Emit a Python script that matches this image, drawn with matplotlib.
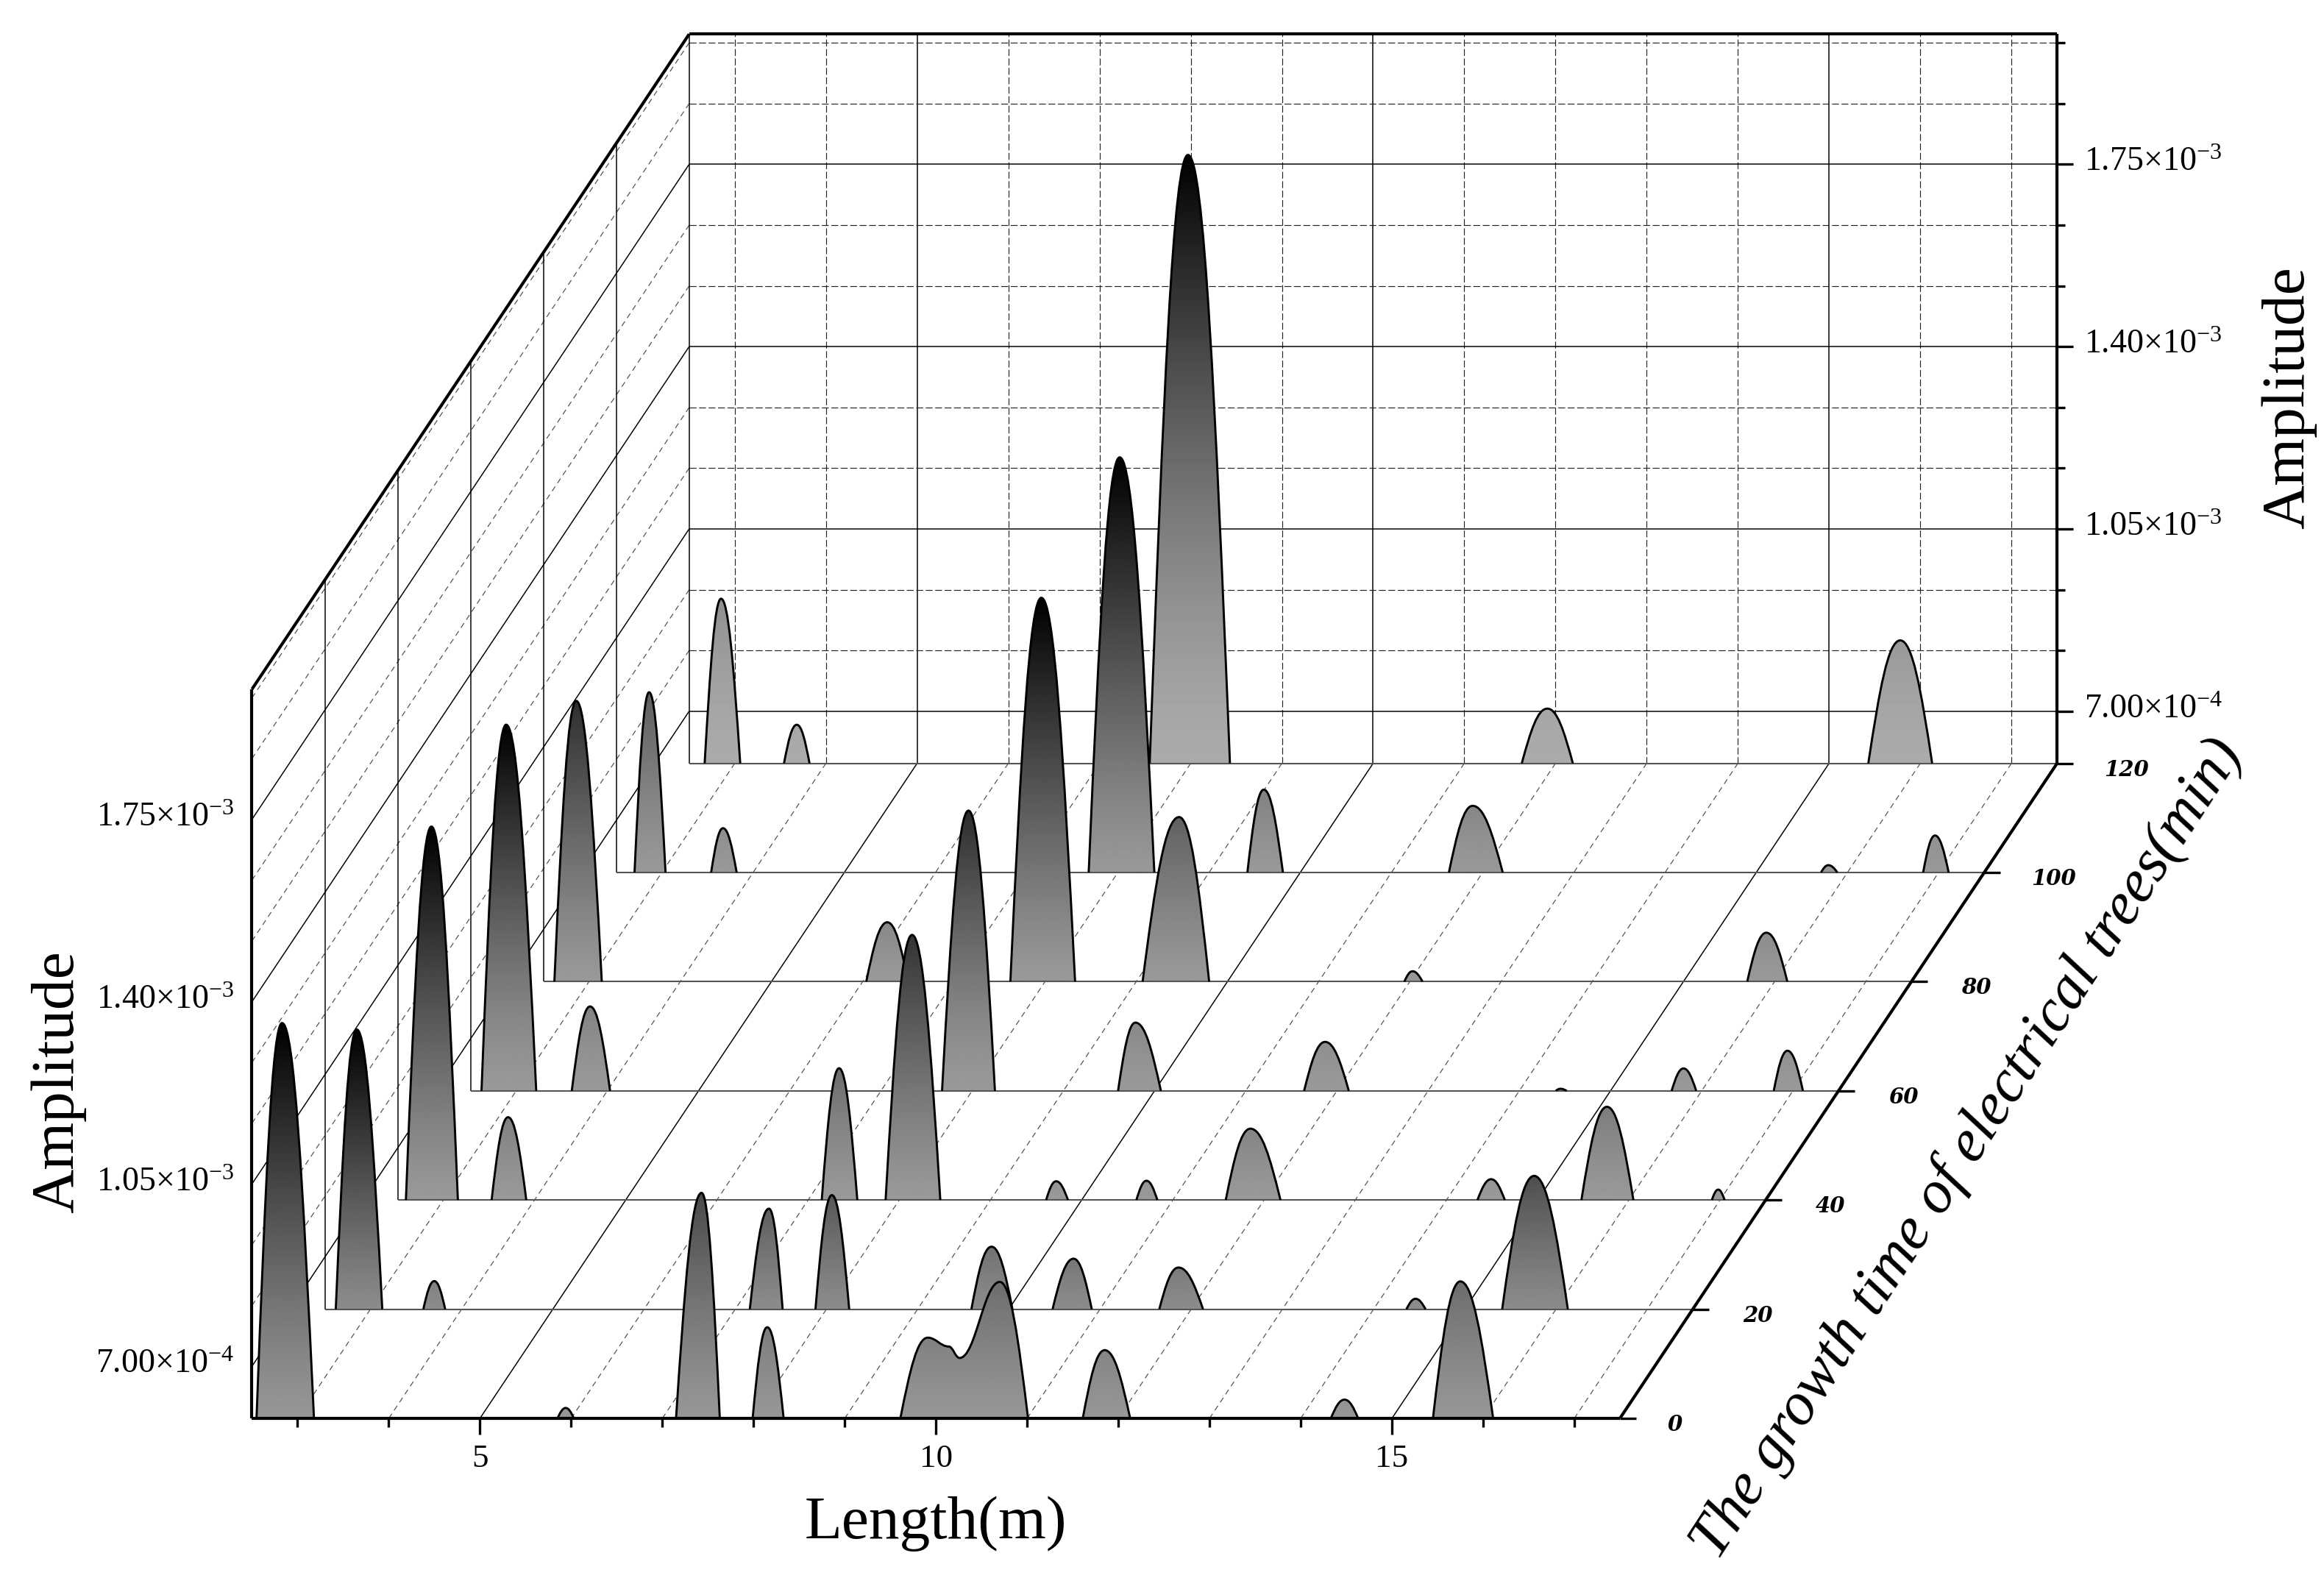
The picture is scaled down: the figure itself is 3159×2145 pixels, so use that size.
import numpy as np
import matplotlib
matplotlib.use("Agg")
import matplotlib.pyplot as plt
from matplotlib.path import Path
from matplotlib.patches import PathPatch

plt.rcParams["font.family"] = ["Liberation Serif", "DejaVu Serif"]
plt.rcParams["mathtext.fontset"] = "custom"
plt.rcParams["mathtext.rm"] = "Liberation Serif"
plt.rcParams["mathtext.it"] = "Liberation Serif:italic"

# growth times, one ribbon each
times = [0, 20, 40, 60, 80, 100, 120]

# knots of each ribbon: length (m) and amplitude (x 1e-3), 0.6 is the floor
length_t0 = [2.55, 2.83, 3.18, 5.85, 5.94, 6.03, 7.15, 7.43, 7.63, 7.99, 8.15, 8.33,
             9.61, 9.91, 10.14, 10.26, 10.70, 11.01, 11.61, 11.85, 12.13, 14.33, 14.48, 14.63, 15.45, 15.75, 16.11]
amp_t0 = [0.6, 1.359, 0.6, 0.6, 0.620, 0.6, 0.6, 1.033, 0.6, 0.6, 0.775, 0.6,
          0.6, 0.755, 0.738, 0.716, 0.862, 0.6, 0.6, 0.731, 0.6, 0.6, 0.636, 0.6, 0.6, 0.863, 0.6]

length_t20 = [2.62, 2.85, 3.13, 3.58, 3.70, 3.82, 7.16, 7.37, 7.52, 7.88, 8.06, 8.25, 9.59, 9.81, 10.04,
              10.48, 10.71, 10.91, 11.65, 11.86, 12.13, 14.36, 14.46, 14.57, 15.41, 15.76, 16.13]
amp_t20 = [0.6, 1.137, 0.6, 0.6, 0.654, 0.6, 0.6, 0.793, 0.6, 0.6, 0.819, 0.6, 0.6, 0.720, 0.6,
           0.6, 0.697, 0.6, 0.6, 0.680, 0.6, 0.6, 0.620, 0.6, 0.6, 0.856, 0.6]

length_t40 = [2.59, 2.87, 3.16, 3.53, 3.71, 3.91, 7.15, 7.34, 7.54, 7.85, 8.14, 8.45, 9.61, 9.72, 9.85,
              10.60, 10.71, 10.83, 11.58, 11.85, 12.18, 14.34, 14.49, 14.64, 15.48, 15.76, 16.05, 16.91, 16.98, 17.05]
amp_t40 = [0.6, 1.317, 0.6, 0.6, 0.759, 0.6, 0.6, 0.853, 0.6, 0.6, 1.109, 0.6, 0.6, 0.636, 0.6,
           0.6, 0.637, 0.6, 0.6, 0.737, 0.6, 0.6, 0.640, 0.6, 0.6, 0.779, 0.6, 0.6, 0.620, 0.6]

length_t60 = [2.62, 2.89, 3.22, 3.61, 3.81, 4.03, 7.67, 7.96, 8.25, 9.60, 9.79, 10.07, 11.64, 11.87, 12.13,
              14.40, 14.45, 14.52, 15.67, 15.80, 15.94, 16.79, 16.94, 17.11]
amp_t60 = [0.6, 1.303, 0.6, 0.6, 0.762, 0.6, 0.6, 1.138, 0.6, 0.6, 0.731, 0.6, 0.6, 0.694, 0.6,
           0.6, 0.604, 0.6, 0.6, 0.643, 0.6, 0.6, 0.677, 0.6]

length_t80 = [2.62, 2.86, 3.14, 6.04, 6.27, 6.50, 7.62, 7.96, 8.33, 9.07, 9.47, 9.80,
              11.94, 12.03, 12.14, 15.70, 15.91, 16.14]
amp_t80 = [0.6, 1.139, 0.6, 0.6, 0.714, 0.6, 0.6, 1.337, 0.6, 0.6, 0.916, 0.6,
           0.6, 0.620, 0.6, 0.6, 0.694, 0.6]

length_t100 = [2.70, 2.86, 3.04, 3.54, 3.67, 3.82, 7.68, 8.02, 8.40, 9.42, 9.60, 9.81,
               11.63, 11.89, 12.22, 15.71, 15.79, 15.89, 16.83, 16.96, 17.11]
amp_t100 = [0.6, 0.946, 0.6, 0.6, 0.685, 0.6, 0.6, 1.397, 0.6, 0.6, 0.759, 0.6,
            0.6, 0.728, 0.6, 0.6, 0.614, 0.6, 0.6, 0.671, 0.6]

length_t120 = [2.67, 2.85, 3.06, 3.54, 3.68, 3.82, 7.55, 7.97, 8.43, 11.63, 11.91, 12.19, 15.43, 15.78, 16.13]
amp_t120 = [0.6, 0.916, 0.6, 0.6, 0.674, 0.6, 0.6, 1.768, 0.6, 0.6, 0.705, 0.6, 0.6, 0.836, 0.6]

lengths = [length_t0, length_t20, length_t40, length_t60, length_t80, length_t100, length_t120]
amps = [amp_t0, amp_t20, amp_t40, amp_t60, amp_t80, amp_t100, amp_t120]

# grey at the foot of each ribbon and how fast it darkens upwards
foot_grey = [0.59, 0.55, 0.60, 0.60, 0.60, 0.60, 0.67]
grad_power = [1.2, 1.1, 1.2, 1.3, 1.17, 1.15, 1.4]

x_major = [5, 10, 15]
x_minor = [3, 4, 6, 7, 8, 9, 11, 12, 13, 14, 16, 17]
amp_major = [0.7, 1.05, 1.4, 1.75]
amp_minor = [0.8167, 0.9333, 1.1667, 1.2833, 1.5167, 1.6333, 1.8667, 1.9833]
amp_labels = ["7.00×10$^{-4}$", "1.05×10$^{-3}$", "1.40×10$^{-3}$", "1.75×10$^{-3}$"]

X_MIN, X_MAX = 2.5, 17.5
A_MIN, A_MAX = 0.6, 2.0
T_MAX = 120
DX_BACK = 4.794   # shift of the back wall in length units
DY_BACK = 1.2577  # and in amplitude units


def shift(t):
    return t / T_MAX * DX_BACK, t / T_MAX * DY_BACK


def line3(ax, x0, a0, t0, x1, a1, t1, **kw):
    dx0, dy0 = shift(t0)
    dx1, dy1 = shift(t1)
    ax.plot([x0 + dx0, x1 + dx1], [a0 + dy0, a1 + dy1], solid_capstyle="butt", **kw)


def peak_path(xs, ys, dx, dy, closed):
    verts, codes = [], []
    base = A_MIN
    for i in range(len(xs) - 1):
        x0, y0, x1, y1 = xs[i], ys[i], xs[i + 1], ys[i + 1]
        w = x1 - x0
        if y0 == base and y1 == base:
            continue
        if y0 == base:
            if closed and verts:
                verts.append((0, 0))
                codes.append(Path.CLOSEPOLY)
            verts.append((x0 + dx, y0 + dy))
            codes.append(Path.MOVETO)
            c1 = (x0 + 0.35 * w, y0 + 0.6 * (y1 - y0))
            c2 = (x0 + 0.62 * w, y1)
        elif y1 == base:
            c1 = (x1 - 0.62 * w, y0)
            c2 = (x1 - 0.35 * w, y1 + 0.6 * (y0 - y1))
        else:
            c1 = (x0 + 0.4 * w, y0)
            c2 = (x1 - 0.4 * w, y1)
        verts += [(c1[0] + dx, c1[1] + dy), (c2[0] + dx, c2[1] + dy), (x1 + dx, y1 + dy)]
        codes += [Path.CURVE4] * 3
    if closed:
        verts.append((0, 0))
        codes.append(Path.CLOSEPOLY)
    return Path(verts, codes)


fig = plt.figure(figsize=(10.53, 7.15), dpi=300)
ax = fig.add_axes([0, 0, 1, 1])
ax.axis("off")

GRID_SOLID = dict(color="black", lw=0.36, zorder=1)
GRID_DASH = dict(color="#222222", lw=0.28, ls=(0, (8, 3)), zorder=1)
FLOOR_DASH = dict(color="#555555", lw=0.3, ls=(0, (6, 4.5)), zorder=1)
WALL_DASH = dict(color="#555555", lw=0.3, ls=(0, (6, 4.5)), zorder=1)

# back wall
for x in x_major:
    line3(ax, x, A_MIN, T_MAX, x, A_MAX, T_MAX, **GRID_SOLID)
    line3(ax, x, A_MIN, 0, x, A_MIN, T_MAX, **GRID_SOLID)
for x in x_minor:
    line3(ax, x, A_MIN, T_MAX, x, A_MAX, T_MAX, **GRID_DASH)
    line3(ax, x, A_MIN, 0, x, A_MIN, T_MAX, **FLOOR_DASH)
for a in amp_major:
    line3(ax, X_MIN, a, T_MAX, X_MAX, a, T_MAX, **GRID_SOLID)
    line3(ax, X_MIN, a, 0, X_MIN, a, T_MAX, **GRID_SOLID)
for a in amp_minor:
    line3(ax, X_MIN, a, T_MAX, X_MAX, a, T_MAX, **GRID_DASH)
    line3(ax, X_MIN, a, 0, X_MIN, a, T_MAX, **WALL_DASH)
# left wall uprights
for t in times[1:]:
    line3(ax, X_MIN, A_MIN, t, X_MIN, A_MAX, t, **GRID_SOLID)

# ribbons, back to front
for i in range(len(times) - 1, -1, -1):
    t = times[i]
    xs = np.array(lengths[i])
    ys = np.array(amps[i])
    dx, dy = shift(t)
    z = 10 + (len(times) - i) * 3
    top = ys.max()
    rows = np.linspace(1, 0, 256)[:, None]   # 1 at the apex of the ribbon
    grad = foot_grey[i] * (1 - rows ** grad_power[i])
    clip = PathPatch(peak_path(xs, ys, dx, dy, True), fc="none", ec="none", transform=ax.transData, zorder=z)
    ax.add_patch(clip)
    im = ax.imshow(grad, cmap="gray", vmin=0, vmax=1, aspect="auto", interpolation="bilinear",
                   extent=(X_MIN + dx, X_MAX + dx, A_MIN + dy, top + dy), zorder=z, origin="upper")
    im.set_clip_path(clip)
    if t > 0:
        line3(ax, X_MIN, A_MIN, t, X_MAX, A_MIN, t, color="#555555", lw=0.5, zorder=z + 1)
    ax.add_patch(PathPatch(peak_path(xs, ys, dx, dy, False), fc="none", ec="black", lw=0.7, zorder=z + 2))

# frame
FRAME = dict(color="black", lw=1.0, zorder=50)
line3(ax, X_MIN, A_MIN, 0, X_MAX, A_MIN, 0, **FRAME)
line3(ax, X_MAX, A_MIN, 0, X_MAX, A_MIN, T_MAX, **FRAME)
line3(ax, X_MIN, A_MAX, T_MAX, X_MAX, A_MAX, T_MAX, **FRAME)
line3(ax, X_MAX, A_MIN, T_MAX, X_MAX, A_MAX, T_MAX, **FRAME)
line3(ax, X_MIN, A_MIN, 0, X_MIN, A_MAX, 0, **FRAME)
line3(ax, X_MIN, A_MAX, 0, X_MIN, A_MAX, T_MAX, **FRAME)

# ticks, sizes in data units
MAJ_X, MIN_X = 11 / 61.53, 5.5 / 61.53
MAJ_A, MIN_A = 11 * 1.4 / 492, 6 * 1.4 / 492
TICK = dict(color="black", lw=0.8, zorder=50)
dxb, dyb = shift(T_MAX)
for x in x_major:
    ax.plot([x, x], [A_MIN, A_MIN - MAJ_A], solid_capstyle="butt", **TICK)
    ax.text(x, A_MIN - 0.077, str(x), ha="center", va="center", fontsize=10.8)
for x in x_minor:
    ax.plot([x, x], [A_MIN, A_MIN - MIN_A], solid_capstyle="butt", **TICK)
for a, s in zip(amp_major, amp_labels):
    ax.plot([X_MAX + dxb, X_MAX + dxb + MAJ_X], [a + dyb, a + dyb], solid_capstyle="butt", **TICK)
    ax.text(X_MAX + dxb + 0.3, a + dyb + 0.003, s, ha="left", va="center", fontsize=11)
    ax.text(X_MIN - 0.2, a + 0.003, s, ha="right", va="center", fontsize=11)
for a in amp_minor:
    ax.plot([X_MAX + dxb, X_MAX + dxb + MIN_X], [a + dyb, a + dyb], solid_capstyle="butt", **TICK)
for t in times:
    dx, dy = shift(t)
    ax.plot([X_MAX + dx, X_MAX + dx + MAJ_X], [A_MIN + dy, A_MIN + dy], solid_capstyle="butt", **TICK)
    off = {1: 0.60, 2: 0.71, 3: 0.76}[len(str(t))]
    ax.text(X_MAX + dx + off, A_MIN + dy - 0.012, str(t), ha="center", va="center",
            fontsize=7, family="DejaVu Serif", style="italic", fontweight="bold")

# axis titles
ax.text(10, A_MIN - 0.19 - 0.012, "Length(m)", ha="center", va="center", fontsize=20)
ax.text(0.38, 1.246, "Amplitude", ha="center", va="center", rotation=90, fontsize=20)
ax.text(24.84, 2.56, "Amplitude", ha="center", va="center", rotation=90, fontsize=20)
ax.text(21.32, 1.117, "The growth time of electrical trees(min)", ha="center", va="center",
        rotation=57, rotation_mode="anchor", fontsize=19.8, style="italic")

ax.set_xlim(2.5 - 170 / 61.53, 2.5 + (1568 - 170) / 61.53)
ax.set_ylim(0.6 - (1064.7 - 957) * 1.4 / 492, 0.6 + 957 * 1.4 / 492)

fig.savefig("out.png", dpi=300)
